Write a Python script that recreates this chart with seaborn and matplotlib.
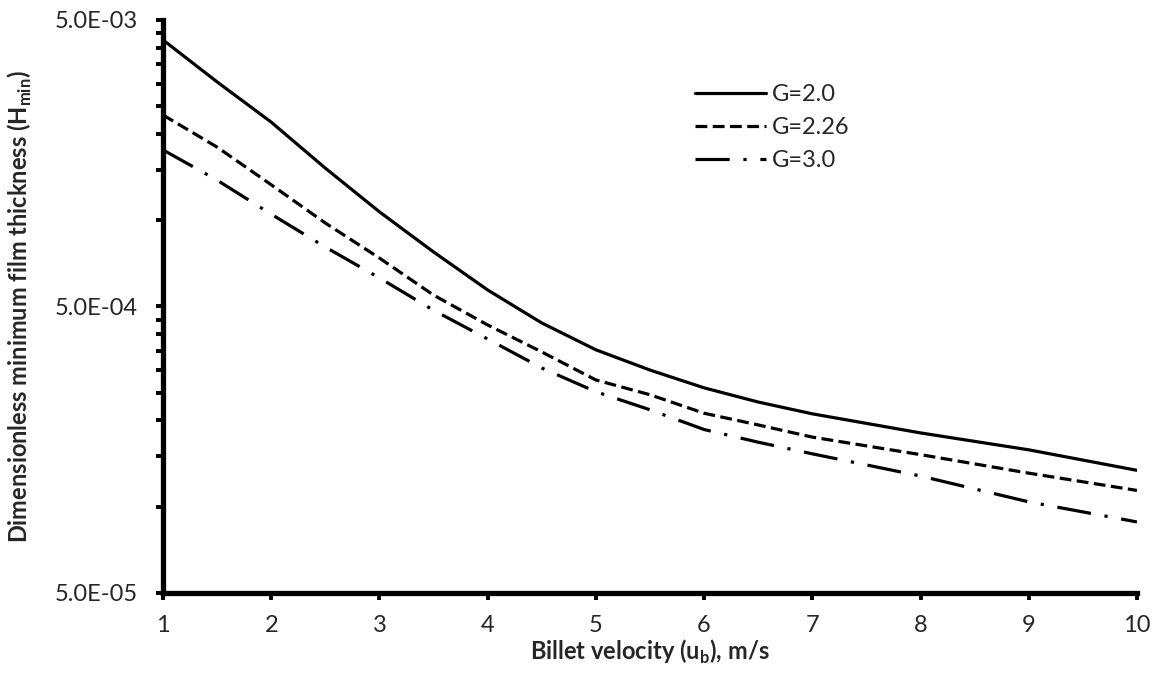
import matplotlib
matplotlib.use('Agg')
import matplotlib.pyplot as plt
from matplotlib.ticker import FixedLocator, NullFormatter
import seaborn as sns
import pandas as pd

# billet velocity, m/s
velocity = [1, 1.5, 2, 2.5, 3, 3.5, 4, 4.5, 5, 5.5, 6, 6.5, 7, 8, 9, 10]

# dimensionless minimum film thickness for each G
h_g20 = [4.26e-3, 3.04e-3, 2.20e-3, 1.52e-3, 1.07e-3, 7.75e-4, 5.71e-4, 4.38e-4,
         3.53e-4, 3.00e-4, 2.60e-4, 2.32e-4, 2.11e-4, 1.81e-4, 1.58e-4, 1.34e-4]
h_g226 = [2.33e-3, 1.80e-3, 1.33e-3, 9.78e-4, 7.38e-4, 5.48e-4, 4.31e-4, 3.47e-4,
          2.77e-4, 2.46e-4, 2.12e-4, 1.93e-4, 1.75e-4, 1.52e-4, 1.31e-4, 1.14e-4]
h_g30 = [1.76e-3, 1.38e-3, 1.05e-3, 8.06e-4, 6.29e-4, 4.85e-4, 3.85e-4, 3.05e-4,
         2.52e-4, 2.18e-4, 1.86e-4, 1.68e-4, 1.53e-4, 1.28e-4, 1.04e-4, 8.85e-5]

series_labels = ['G=2.0', 'G=2.26', 'G=3.0']
x_ticks = [1, 2, 3, 4, 5, 6, 7, 8, 9, 10]
y_major = [5e-5, 5e-4, 5e-3]
y_major_labels = ['5.0E-05', '5.0E-04', '5.0E-03']

sns.set_theme(style='white')
plt.rcParams['font.family'] = ['Lato', 'DejaVu Sans']
plt.rcParams['mathtext.fontset'] = 'custom'
plt.rcParams['mathtext.rm'] = 'Lato'
plt.rcParams['mathtext.bf'] = 'Lato:bold'

fig = plt.figure(figsize=(11.55, 6.75), dpi=100)
ax = fig.add_axes([0.1411, 0.1215, 0.8433, 0.8489])

styles = [None, (3.7, 1.7), (10.7, 4.3, 1.0, 4.3)]
for vals, lab, dash in zip([h_g20, h_g226, h_g30], series_labels, styles):
    df = pd.DataFrame({'u': velocity, 'h': vals})
    sns.lineplot(data=df, x='u', y='h', color='black', lw=2.3, label=lab, ax=ax)
    if dash is not None:
        ax.lines[-1].set_dashes(dash)

ax.set_yscale('log')
ax.set_xlim(1, 10)
ax.set_ylim(5e-5, 5e-3)
ax.set_xticks(x_ticks)
ax.set_xticklabels([str(v) for v in x_ticks])
ax.yaxis.set_major_locator(FixedLocator(y_major))
ax.set_yticklabels(y_major_labels)
minors = [k * b for b in [5e-5, 5e-4] for k in range(2, 10)]
ax.yaxis.set_minor_locator(FixedLocator(minors))
ax.yaxis.set_minor_formatter(NullFormatter())

for side in ['top', 'right']:
    ax.spines[side].set_visible(False)
for side in ['left', 'bottom']:
    ax.spines[side].set_linewidth(3.8)
    ax.spines[side].set_color('black')

ax.tick_params(axis='both', which='major', direction='out', length=5, width=2.8,
               color='black', labelsize=17, left=True, bottom=True)
ax.tick_params(axis='y', which='minor', direction='out', length=5, width=2.8,
               color='black', left=True)
ax.tick_params(axis='y', which='major', pad=13)
ax.tick_params(axis='x', which='major', pad=11)

ax.set_xlabel(r'Billet velocity (u$_{\bf b}$), m/s', fontsize=17, fontweight='bold',
              labelpad=1)
ax.set_ylabel(r'Dimensionless minimum film thickness (H$_{\bf min}$)', fontsize=17,
              fontweight='bold', labelpad=15)

ax.legend(loc='upper left', bbox_to_anchor=(0.546, 0.888), frameon=False, fontsize=17,
          handlelength=3.0, handletextpad=0.25, labelspacing=0.5, borderpad=0,
          borderaxespad=0)

fig.savefig('out.png', dpi=100)
